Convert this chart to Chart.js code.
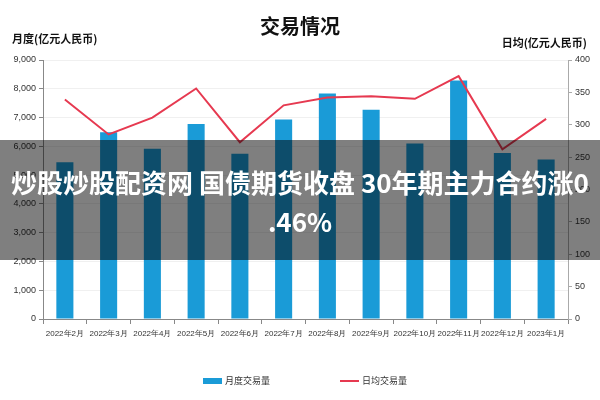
<!DOCTYPE html>
<html>
<head>
<meta charset="utf-8">
<script src="https://cdn.jsdelivr.net/npm/chart.js@4"></script>
<style>
body { margin: 0; background: #fff; font-family: "Noto Sans CJK SC", "Noto Sans", sans-serif; }
#wrap { position: relative; width: 600px; height: 400px; }
#grafico { position: absolute; left: 0; top: 0; }
.txt { position: absolute; white-space: nowrap; color: #111; font-weight: bold; }
#titulo { left: 0; width: 600px; top: 11px; text-align: center; font-size: 20px; }
#ejeIzq { left: 12px; top: 30px; font-size: 11px; }
#ejeDer { right: 13px; top: 34px; font-size: 11px; }
.leyenda { position: absolute; top: 374px; font-size: 9px; color: #333; display: flex; align-items: center; }
.leyenda span.m { display: inline-block; width: 19px; margin-right: 3px; }
#banda { position: absolute; left: 0; top: 140px; width: 600px; height: 120px; background: rgba(0,0,0,0.5);
  color: #fff; font-weight: bold; font-size: 26px; line-height: 39px; text-align: center; padding-top: 22px; box-sizing: border-box; }
</style>
</head>
<body>
<div id="wrap">
  <canvas id="grafico" width="600" height="400"></canvas>
  <div class="txt" id="titulo">交易情况</div>
  <div class="txt" id="ejeIzq">月度(亿元人民币)</div>
  <div class="txt" id="ejeDer">日均(亿元人民币)</div>
  <div class="leyenda" id="leyBar" style="left:203px"><span class="m" style="height:6px"></span>月度交易量</div>
  <div class="leyenda" id="leyLin" style="left:340px"><span class="m" style="height:2px"></span>日均交易量</div>
  <div id="banda">炒股炒股配资网 国债期货收盘 30年期主力合约涨0<br>.46%</div>
</div>
<script>
var meses = ['2022年2月', '2022年3月', '2022年4月', '2022年5月', '2022年6月', '2022年7月',
             '2022年8月', '2022年9月', '2022年10月', '2022年11月', '2022年12月', '2023年1月'];
var volumenMensual = [5450, 6490, 5920, 6780, 5740, 6930, 7840, 7270, 6100, 8290, 5770, 5540];
var promedioDiario = [339, 285, 311, 356, 273, 330, 342, 344, 340, 375, 262, 309];

var colorBarra = '#1a9bd7';
var colorLinea = '#e63950';

document.querySelector('#leyBar .m').style.background = colorBarra;
document.querySelector('#leyLin .m').style.background = colorLinea;

var fuenteTick = { family: 'Liberation Sans, Arial, sans-serif', size: 9 };
var fuenteMes = { family: 'Liberation Sans, Arial, sans-serif', size: 8 };

var ctx = document.getElementById('grafico').getContext('2d');
var myChart = new Chart(ctx, {
    type: 'bar',
    data: {
        labels: meses,
        datasets: [{
            type: 'line',
            label: '日均交易量',
            data: promedioDiario,
            yAxisID: 'y1',
            borderColor: colorLinea,
            borderWidth: 2,
            pointRadius: 0,
            tension: 0,
            fill: false,
            order: 0
        }, {
            type: 'bar',
            label: '月度交易量',
            data: volumenMensual,
            yAxisID: 'y',
            backgroundColor: colorBarra,
            categoryPercentage: 1,
            barPercentage: 0.39,
            order: 1
        }]
    },
    options: {
        responsive: false,
        animation: false,
        layout: { padding: { top: 60, left: 0, right: 0, bottom: 0 } },
        plugins: { legend: { display: false }, title: { display: false }, tooltip: { enabled: false } },
        scales: {
            x: {
                grid: { drawOnChartArea: false, color: '#888', tickLength: 5 },
                border: { color: '#888' },
                ticks: { color: '#333', font: fuenteMes, maxRotation: 0, autoSkip: false, padding: 5 },
                afterFit: function (s) { s.height = 81; }
            },
            y: {
                position: 'left',
                min: 0, max: 9000,
                ticks: { stepSize: 1000, color: '#333', font: fuenteTick, padding: 3,
                    callback: function (v) { return v.toLocaleString('en-US'); } },
                grid: { color: '#f0f0f0', tickColor: '#888', tickLength: 4 },
                border: { color: '#888' },
                afterFit: function (s) { s.width = 43; }
            },
            y1: {
                position: 'right',
                min: 0, max: 400,
                ticks: { stepSize: 50, color: '#333', font: fuenteTick, padding: 3 },
                grid: { drawOnChartArea: false, tickColor: '#aaa', tickLength: 4 },
                border: { color: '#aaa' },
                afterFit: function (s) { s.width = 32; }
            }
        }
    }
});
</script>
</body>
</html>
